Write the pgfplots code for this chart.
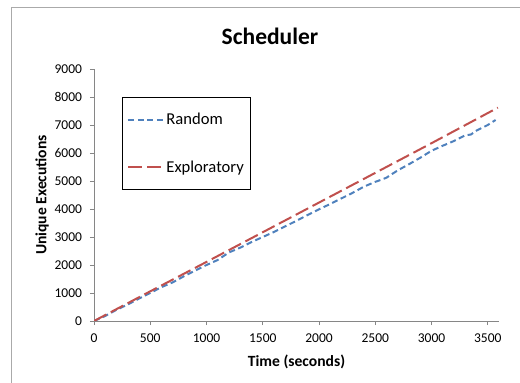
\documentclass[border=0pt]{standalone}
\usepackage{pgfplots}
\pgfplotsset{compat=1.18}
\usepackage{fontspec}
\setmainfont{Carlito}
\definecolor{exblue}{RGB}{79,129,189}
\definecolor{exred}{RGB}{192,80,77}
\definecolor{axgray}{RGB}{134,134,134}
\begin{document}
\begin{tikzpicture}
\path[use as bounding box] (0,0) rectangle (520bp,383bp);
\draw[axgray!70, line width=0.8bp] (11bp,0) -- (11bp,376bp) -- (520bp,376bp);
\node[font=\fontsize{23.5bp}{28bp}\selectfont\bfseries] at (270bp,347bp) {Scheduler};
\begin{axis}[
  at={(94bp,62bp)}, anchor=south west,
  scale only axis, width=405bp, height=252bp,
  xmin=0, xmax=3600, ymin=0, ymax=9000,
  xtick={0,500,...,3500}, ytick={0,1000,...,9000},
  axis x line=bottom, axis y line=left,
  axis line style={axgray, line width=0.8bp, -},
  tick style={axgray, line width=0.8bp},
  major tick length=4bp, tick align=outside,
  /pgf/number format/assume math mode=true,
  /pgf/number format/1000 sep={},
  ticklabel style={font=\fontsize{13.5bp}{16bp}\selectfont},
  xticklabel style={yshift=-5bp},
  yticklabel style={xshift=-4.5bp},
  xlabel={Time (seconds)}, ylabel={Unique Executions},
  label style={font=\fontsize{15.6bp}{18bp}\selectfont\bfseries},
  x label style={at={(rel axis cs:0.5,0)}, yshift=-41bp, anchor=center},
  y label style={at={(rel axis cs:0,0.5)}, anchor=center, rotate=0, yshift=52bp},
  legend style={at={(0.069,0.889)}, anchor=north west, draw=black, line width=1bp,
    font=\fontsize{16.6bp}{19bp}\selectfont, inner xsep=5bp, inner ysep=14bp,
    row sep=30bp},
  legend cell align=left,
  legend image code/.code={\draw[#1] (0bp,0bp) -- (35bp,0bp);},
]
\addplot[exblue, line width=2bp, dash pattern=on 6bp off 3.5bp] coordinates {
(0,0) (100,180) (200,400) (300,590) (400,800) (500,1000) (600,1210) (700,1380)
(800,1600) (900,1800) (1000,2000) (1100,2180) (1200,2450) (1300,2620) (1400,2820)
(1500,3000) (1600,3180) (1700,3380) (1800,3580) (1900,3790) (2000,3990) (2100,4180)
(2200,4380) (2300,4580) (2400,4800) (2500,4970) (2550,5040) (2600,5120) (2700,5380)
(2800,5600) (2900,5830) (3000,6080) (3100,6260) (3200,6430) (3300,6630) (3350,6660)
(3400,6800) (3500,7000) (3570,7180)};
\addlegendentry{Random}
\addplot[exred, line width=2bp, dash pattern=on 14bp off 5bp] coordinates {
(0,0) (500,1060) (1000,2110) (1500,3170) (2000,4230) (2500,5290) (3000,6350) (3590,7620)};
\addlegendentry{Exploratory}
\end{axis}
\end{tikzpicture}
\end{document}
